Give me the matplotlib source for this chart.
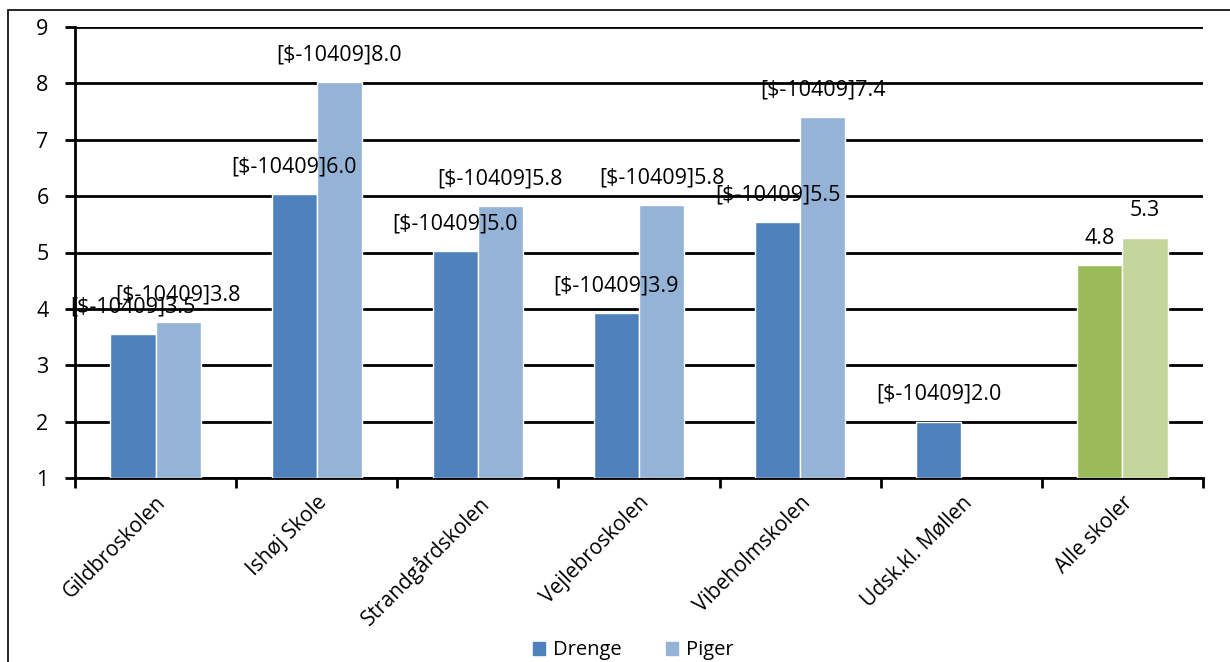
import numpy as np
import matplotlib.pyplot as plt
from matplotlib.patches import Rectangle

# Data
categories = ["Gildbroskolen", "Ishøj Skole", "Strandgårdskolen", "Vejlebroskolen",
              "Vibeholmskolen", "Udsk.kl. Møllen", "Alle skoler"]
drenge = [3.55, 6.03, 5.02, 3.92, 5.54, 2.0, 4.77]
piger = [3.76, 8.02, 5.82, 5.84, 7.40, np.nan, 5.26]
drenge_labels = ["[$-10409]3.5", "[$-10409]6.0", "[$-10409]5.0", "[$-10409]3.9",
                 "[$-10409]5.5", "[$-10409]2.0", "4.8"]
piger_labels = ["[$-10409]3.8", "[$-10409]8.0", "[$-10409]5.8", "[$-10409]5.8",
                "[$-10409]7.4", "", "5.3"]

blue_dark, blue_light = "#4F81BD", "#95B3D7"
green_dark, green_light = "#9BBB59", "#C3D69B"

plt.rcParams['font.family'] = ['Open Sans', 'DejaVu Sans']

fig = plt.figure(figsize=(12.3, 6.62), dpi=100)
ax = fig.add_axes([75 / 1230, 1 - 478 / 662, (1203 - 75) / 1230, (478 - 27) / 662])

# outer chart frame
fig.patches.append(Rectangle((8 / 1230, -0.02), 1.05, 1 - 10 / 662 + 0.02,
                             transform=fig.transFigure, fill=False,
                             edgecolor="black", linewidth=1.2))

x = np.arange(len(categories))
w = 0.28
base = 1
d_colors = [blue_dark] * 6 + [green_dark]
p_colors = [blue_light] * 6 + [green_light]
d_vals = np.array(drenge) - base
p_vals = np.array(piger) - base

ax.bar(x - w / 2, d_vals, w, bottom=base, color=d_colors, edgecolor="white",
       linewidth=1, zorder=3, label="Drenge")
ax.bar(x + w / 2, p_vals, w, bottom=base, color=p_colors, edgecolor="white",
       linewidth=1, zorder=3, label="Piger")

lab_fs = 15.5
for i in range(len(categories)):
    if not np.isnan(drenge[i]):
        ax.annotate(drenge_labels[i], (x[i] - w / 2, drenge[i]), xytext=(0, 12),
                    textcoords="offset points", ha="center", va="bottom",
                    fontsize=lab_fs, color="black", zorder=4)
    if not np.isnan(piger[i]) and piger_labels[i]:
        ax.annotate(piger_labels[i], (x[i] + w / 2, piger[i]), xytext=(0, 12),
                    textcoords="offset points", ha="center", va="bottom",
                    fontsize=lab_fs, color="black", zorder=4)

ax.set_ylim(1, 9)
ax.set_yticks(range(1, 10))
ax.set_xlim(-0.5, len(categories) - 0.5)
ax.yaxis.grid(True, color="black", linewidth=2, zorder=0)
ax.set_axisbelow(True)

ax.set_xticks(x)
ax.set_xticklabels(categories, rotation=45, ha="right", rotation_mode="anchor", fontsize=15)
ax.tick_params(axis="x", length=0, pad=10)
ax.set_xticks(np.arange(-0.5, len(categories), 1), minor=True)
ax.tick_params(axis="x", which="minor", length=7, width=2, direction="out")
ax.tick_params(axis="y", length=7, width=2, labelsize=15.5, direction="out", pad=12)

for s in ["top", "right"]:
    ax.spines[s].set_visible(False)
for s in ["left", "bottom"]:
    ax.spines[s].set_linewidth(2)

handles = [Rectangle((0, 0), 1, 1, color=blue_dark), Rectangle((0, 0), 1, 1, color=blue_light)]
fig.legend(handles, ["Drenge", "Piger"], loc="lower center", bbox_to_anchor=(0.515, -0.025),
           ncol=2, frameon=False, fontsize=14.5, handlelength=0.6, handleheight=0.6,
           columnspacing=2.2, handletextpad=0.4)

fig.savefig("out.png", dpi=100)
